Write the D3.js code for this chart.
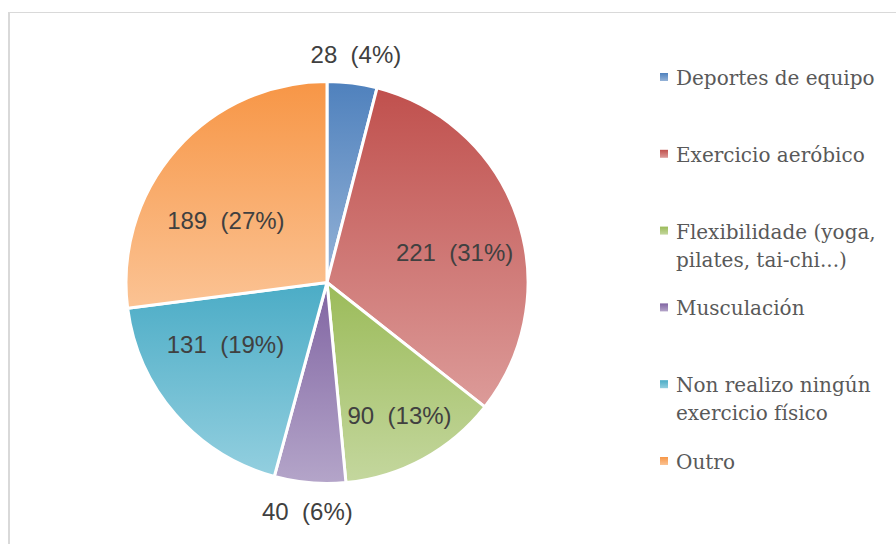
<!DOCTYPE html>
<html>
<head>
<meta charset="utf-8">
<script src="https://cdn.jsdelivr.net/npm/d3@7"></script>
<style>
html, body { margin: 0; padding: 0; background: #ffffff; }
svg { display: block; }
</style>
</head>
<body>
<svg id="chart" width="896" height="544"></svg>
<script>
// ---- data ----
const categories = [
  "Deportes de equipo",
  "Exercicio aeróbico",
  "Flexibilidade (yoga, pilates, tai-chi...)",
  "Musculación",
  "Non realizo ningún exercicio físico",
  "Outro"
];
const legendLines = [
  ["Deportes de equipo"],
  ["Exercicio aeróbico"],
  ["Flexibilidade (yoga,", "pilates, tai-chi...)"],
  ["Musculación"],
  ["Non realizo ningún", "exercicio físico"],
  ["Outro"]
];
const values = [28, 221, 90, 40, 131, 189];
const percentLabels = ["4%", "31%", "13%", "6%", "19%", "27%"];
const topColors = ["#4f81bd", "#c0504d", "#9bbb59", "#8064a2", "#4bacc6", "#f79646"];
const bottomColors = ["#95b3d7", "#dc9b99", "#c4d79e", "#b4a5c9", "#93cfdf", "#fbc394"];
const outsideLabel = [true, false, false, true, false, false];

const svg = d3.select("#chart");
const W = 896, H = 544;

// frame
svg.append("line").attr("x1", 9).attr("x2", 9).attr("y1", 12).attr("y2", H)
  .attr("stroke", "#d9d9d9").attr("stroke-width", 2);
svg.append("line").attr("x1", 8).attr("x2", W).attr("y1", 12.5).attr("y2", 12.5)
  .attr("stroke", "#d9d9d9").attr("stroke-width", 1);

// gradients
const defs = svg.append("defs");
categories.forEach((c, i) => {
  const g = defs.append("linearGradient").attr("id", "grad" + i)
    .attr("x1", 0).attr("y1", 0).attr("x2", 0).attr("y2", 1);
  g.append("stop").attr("offset", "0%").attr("stop-color", topColors[i]);
  g.append("stop").attr("offset", "100%").attr("stop-color", bottomColors[i]);
});

const cx = 327, cy = 282.5, R = 201;
const pie = d3.pie().sort(null).value(d => d)(values);
const arc = d3.arc().innerRadius(0).outerRadius(R);
const outArc = d3.arc().innerRadius(R * 1.145).outerRadius(R * 1.145);

const gp = svg.append("g").attr("transform", `translate(${cx},${cy})`);
gp.selectAll("path.slice").data(pie).enter().append("path")
  .attr("class", "slice")
  .attr("d", arc)
  .attr("fill", (d, i) => `url(#grad${i})`)
  .attr("stroke", "#ffffff")
  .attr("stroke-width", 3)
  .attr("stroke-linejoin", "round");

const labels = gp.selectAll("text.lbl").data(pie).enter().append("text")
  .attr("class", "lbl")
  .attr("text-anchor", "middle")
  .attr("dy", "0.35em")
  .style("white-space", "pre")
  .attr("font-family", "'Liberation Sans', Arial, sans-serif")
  .attr("font-size", 24)
  .attr("fill", "#404040")
  .text((d, i) => `${values[i]}  (${percentLabels[i]})`);

// angle (clockwise from 12 o'clock) of a point relative to centre
function angleOf(x, y) {
  let a = Math.atan2(x, -y);
  if (a < 0) a += 2 * Math.PI;
  return a;
}
function boxFits(d, px, py, hw, hh) {
  const corners = [[px - hw, py - hh], [px + hw, py - hh], [px - hw, py + hh], [px + hw, py + hh]];
  return corners.every(([x, y]) => {
    const a = angleOf(x, y);
    return a >= d.startAngle && a <= d.endAngle && Math.hypot(x, y) <= R;
  });
}

labels.each(function (d, i) {
  const t = d3.select(this);
  let p;
  const mid = (d.startAngle + d.endAngle) / 2;
  if (outsideLabel[i]) {
    p = outArc.centroid(d);
  } else {
    const span = d.endAngle - d.startAngle;
    if (span > 1.0) {
      // wide slices: label sits on a flattened ring
      p = [R * 0.67 * Math.sin(mid), -R * 0.47 * Math.cos(mid)];
    } else {
      // narrow slices: move outward along the bisector until the label box fits
      const bb = this.getBBox();
      const hw = bb.width / 2 + 6, hh = bb.height / 2 + 4;
      let r = R * 0.62;
      while (r < R * 0.9 && !boxFits(d, r * Math.sin(mid), -r * Math.cos(mid), hw, hh)) r += 1;
      p = [r * Math.sin(mid), -r * Math.cos(mid)];
    }
  }
  t.attr("transform", `translate(${p[0]},${p[1]})`);
});

// legend
const ly = d3.scalePoint().domain(categories).range([77, 461]);
const lg = svg.append("g");
categories.forEach((c, i) => {
  const y = ly(c);
  lg.append("rect").attr("x", 660).attr("y", y - 4).attr("width", 8).attr("height", 8)
    .attr("fill", `url(#grad${i})`);
  const t = lg.append("text")
    .attr("x", 676).attr("y", y + 8)
    .attr("font-family", "'DejaVu Serif', serif")
    .attr("font-size", 20)
    .attr("fill", "#595959");
  legendLines[i].forEach((line, k) => {
    t.append("tspan").attr("x", 676).attr("dy", k === 0 ? 0 : 28).text(line);
  });
});
</script>
</body>
</html>
